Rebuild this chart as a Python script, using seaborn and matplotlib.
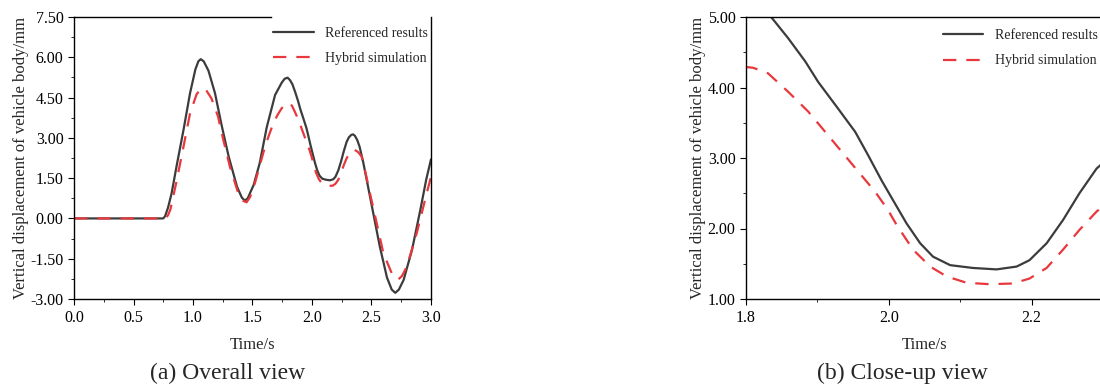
import matplotlib
matplotlib.use("Agg")
import matplotlib.pyplot as plt
from matplotlib.ticker import MultipleLocator, FormatStrFormatter
import seaborn as sns

# Referenced results (time in s, displacement in mm)
t_ref = [0.0, 0.70, 0.75, 0.765, 0.79, 0.82, 0.86, 0.92, 0.975, 1.02, 1.045, 1.065,
         1.09, 1.13, 1.185, 1.24, 1.30, 1.37, 1.41, 1.435, 1.46, 1.51, 1.56, 1.62,
         1.69, 1.745, 1.77, 1.795, 1.815, 1.836, 1.859, 1.883, 1.901, 1.929, 1.953,
         1.971, 1.99, 2.006, 2.025, 2.044, 2.062, 2.086, 2.118, 2.151, 2.179, 2.197,
         2.221, 2.244, 2.267, 2.291, 2.31, 2.33, 2.345, 2.36, 2.38, 2.40, 2.43, 2.46,
         2.515, 2.57, 2.63, 2.67, 2.70, 2.73, 2.77, 2.84, 2.91, 2.96, 3.0]
y_ref = [0.0, 0.0, 0.0, 0.08, 0.40, 0.93, 1.90, 3.29, 4.66, 5.55, 5.85, 5.93,
         5.85, 5.50, 4.66, 3.48, 2.30, 1.18, 0.78, 0.66, 0.75, 1.25, 2.05, 3.40,
         4.60, 5.05, 5.20, 5.24, 5.15, 4.99, 4.70, 4.37, 4.08, 3.70, 3.37,
         3.04, 2.68, 2.40, 2.07, 1.79, 1.60, 1.48, 1.44, 1.42, 1.46, 1.55,
         1.79, 2.12, 2.50, 2.85, 3.02, 3.11, 3.13, 3.08, 2.92, 2.67, 2.10, 1.43,
         0.19, -1.05, -2.20, -2.65, -2.77, -2.65, -2.29, -1.18, 0.31, 1.45, 2.20]

# Hybrid simulation
t_hyb = [0.0, 0.77, 0.79, 0.81, 0.86, 0.92, 0.975, 1.03, 1.06, 1.085, 1.11, 1.155,
         1.21, 1.255, 1.31, 1.38, 1.42, 1.45, 1.48, 1.52, 1.56, 1.605, 1.64, 1.675,
         1.71, 1.745, 1.775, 1.80, 1.81, 1.831, 1.859, 1.887, 1.911, 1.934, 1.957,
         1.981, 1.999, 2.011, 2.034, 2.058, 2.081, 2.109, 2.141, 2.174, 2.197, 2.221,
         2.244, 2.267, 2.291, 2.31, 2.33, 2.36, 2.39, 2.417, 2.45, 2.487, 2.544,
         2.60, 2.67, 2.70, 2.725, 2.755, 2.796, 2.88, 2.964, 3.0]
y_hyb = [0.0, 0.0, 0.12, 0.33, 1.35, 2.67, 3.91, 4.62, 4.80, 4.85, 4.78, 4.47,
         3.80, 2.92, 1.93, 0.94, 0.66, 0.60, 0.80, 1.31, 1.95, 2.67, 3.12, 3.54,
         3.85, 4.10, 4.24, 4.29, 4.28, 4.20, 3.94, 3.66, 3.37, 3.09, 2.81,
         2.52, 2.26, 2.05, 1.70, 1.46, 1.32, 1.23, 1.21, 1.22, 1.29, 1.44,
         1.70, 1.98, 2.24, 2.40, 2.50, 2.55, 2.46, 2.30, 1.70, 0.94, -0.18,
         -1.30, -2.04, -2.22, -2.27, -2.15, -1.80, -0.55, 0.94, 1.55]

labels = ["Referenced results", "Hybrid simulation"]
ylabel = "Vertical displacement of vehicle body/mm"

sns.set_style("ticks")
plt.rcParams['font.family'] = ['Liberation Serif', 'DejaVu Serif']

fig = plt.figure(figsize=(11, 3.88), dpi=100)
W, H = 1100, 388
ax1 = fig.add_axes([74 / W, 1 - 299 / H, 357 / W, 282 / H])
ax2 = fig.add_axes([746 / W, 1 - 299 / H, 357 / W, 282 / H])

ref_color = "#3c3c3c"
hyb_color = "#e8383d"

for ax in (ax1, ax2):
    sns.lineplot(x=t_ref, y=y_ref, ax=ax, color=ref_color, linewidth=1.6,
                 label=labels[0], sort=False)
    sns.lineplot(x=t_hyb, y=y_hyb, ax=ax, color=hyb_color, linewidth=1.6,
                 label=labels[1], sort=False)
    ax.lines[1].set_dashes([6, 4.5])
    for s in ax.spines.values():
        s.set_linewidth(1.0)
        s.set_color("black")
    ax.tick_params(which="major", direction="out", length=4, width=0.8,
                   labelsize=11.5, colors="black")
    ax.tick_params(axis="x", which="major", pad=4)
    ax.tick_params(which="minor", direction="out", length=2.5, width=0.7)
    ax.set_xlabel("Time/s", fontsize=12, labelpad=8)
    ax.set_ylabel(ylabel, fontsize=12, labelpad=1)
    ax.yaxis.set_major_formatter(FormatStrFormatter("%.2f"))
    ax.xaxis.set_major_formatter(FormatStrFormatter("%.1f"))

# (a) overall
ax1.set_xlim(0, 3.0)
ax1.set_ylim(-3.0, 7.5)
ax1.xaxis.set_major_locator(MultipleLocator(0.5))
ax1.xaxis.set_minor_locator(MultipleLocator(0.25))
ax1.yaxis.set_major_locator(MultipleLocator(1.5))
ax1.yaxis.set_minor_locator(MultipleLocator(0.75))
ax1.spines["top"].set_bounds(0, 1.655)
ax1.legend(loc="upper right", bbox_to_anchor=(1.0, 0.975), frameon=False,
           fontsize=10, handlelength=2.9, handletextpad=0.85, labelspacing=0.9,
           borderpad=0.2, borderaxespad=0.0)

# (b) close-up
ax2.set_xlim(1.8, 2.3)
ax2.set_ylim(1.0, 5.0)
ax2.xaxis.set_major_locator(MultipleLocator(0.2))
ax2.xaxis.set_minor_locator(MultipleLocator(0.1))
ax2.yaxis.set_major_locator(MultipleLocator(1.0))
ax2.yaxis.set_minor_locator(MultipleLocator(0.5))
ax2.legend(loc="upper right", bbox_to_anchor=(1.0, 0.975), frameon=False,
           fontsize=10, handlelength=2.9, handletextpad=0.85, labelspacing=0.9,
           borderpad=0.35, borderaxespad=0.0)

fig.text(228 / W, 1 - 373 / H, "(a) Overall view", ha="center", va="center", fontsize=17)
fig.text(902 / W, 1 - 373 / H, "(b) Close-up view", ha="center", va="center", fontsize=17)

fig.savefig("out.png", dpi=100)
